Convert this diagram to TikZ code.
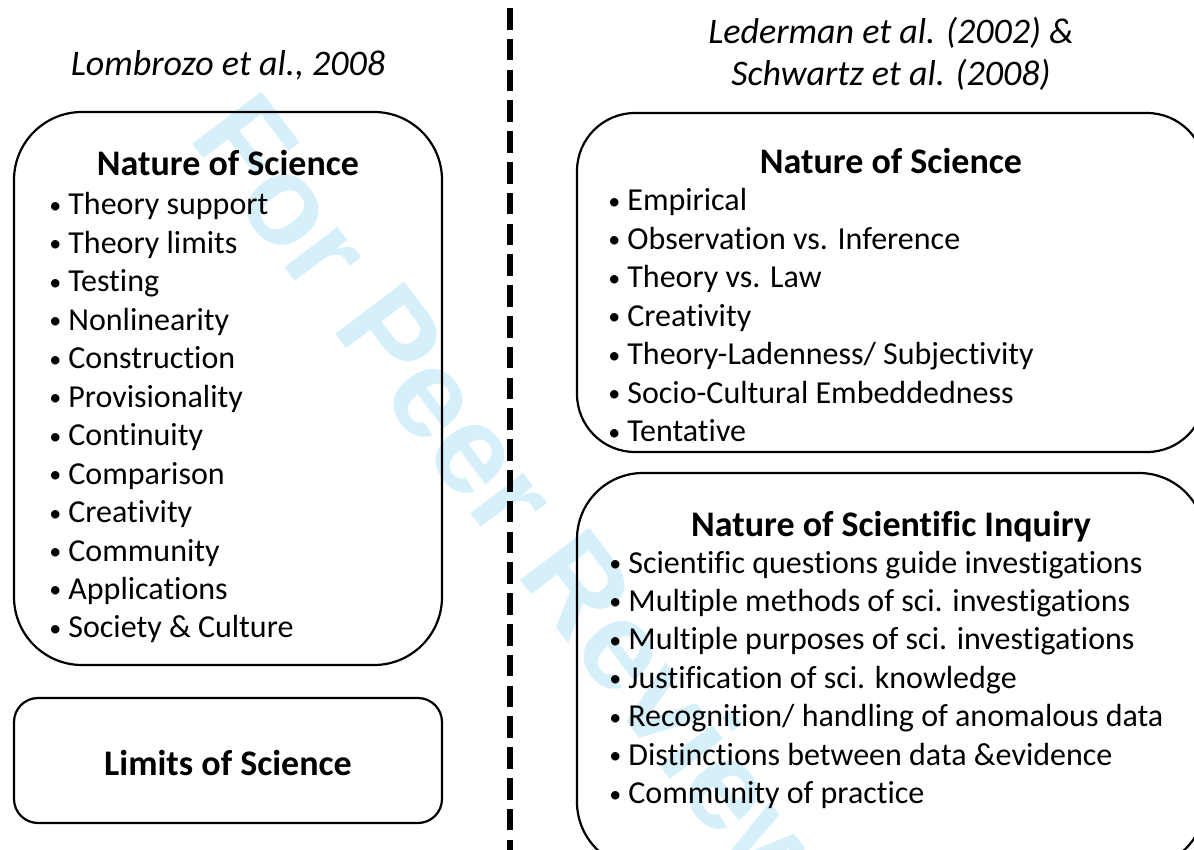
\documentclass[tikz,border=0pt]{standalone}
\usepackage{fontspec}
\setmainfont{Carlito}[Ligatures={NoCommon}]
\newfontfamily\stampfont{Liberation Sans}
\usetikzlibrary{positioning}
\definecolor{stampblue}{RGB}{214,240,251}
\tikzset{
  panel/.style={draw, line width=1.1pt, inner sep=0pt},
  heading/.style={anchor=base, inner sep=0pt, font=\fontsize{18}{22}\selectfont\bfseries},
  entry/.style={anchor=base west, inner sep=0pt, font=\fontsize{16}{19}\selectfont},
  source/.style={anchor=base, inner sep=0pt, font=\fontsize{18}{21}\selectfont\itshape},
  divider/.style={line width=2.6pt, dash pattern=on 10.8pt off 4.6pt},
}
\newcommand{\bul}{\makebox[9.5pt][l]{\raisebox{0.8pt}{\fontsize{12}{12}\selectfont\textbullet}}}

\begin{document}
\begin{tikzpicture}[x=0.5pt, y=-0.5pt]
\useasboundingbox (0,0) rectangle (1194,850);
% watermark
\node (stamp) [text=stampblue, font=\fontsize{63}{63}\stampfont\bfseries, rotate=-53] at (518,502) {For Peer Review};

% sources
\node (lomb) [source] at (228,76) {Lombrozo et al., 2008};
\node (led) [source] at (891,44) {Lederman et al. (2002) \&};
\node (schw) [source] at (891,86) {Schwartz et al. (2008)};

% boxes
\node (nosL) [panel, rounded corners=34pt, minimum width=214pt, minimum height=276.5pt] at (228,388.5) {};
\node (limits) [panel, rounded corners=12pt, minimum width=214pt, minimum height=62.5pt] at (228,760.5) {};
\node (nosR) [panel, rounded corners=29pt, minimum width=314pt, minimum height=169.5pt] at (891,282.5) {};
\node (nosi) [panel, rounded corners=33pt, minimum width=314pt, minimum height=197.5pt] at (891,670.5) {};

\node (nosL title) [heading] at (228,176) {Nature of Science};
\node (limits title) [heading] at (228,775) {Limits of Science};
\node (nosR title) [heading] at (891,174) {Nature of Science};
\node (nosi title) [heading] at (891,536) {Nature of Scientific Inquiry};

\foreach \txt [count=\i from 0] in {Theory support, Theory limits, Testing,
    Nonlinearity, Construction, Provisionality, Continuity, Comparison,
    Creativity, Community, Applications, Society \& Culture}
  \node (nosL \i) [entry] at (49,215+38.45*\i) {\bul\txt};

\foreach \txt [count=\i from 0] in {Empirical, Observation vs. Inference,
    Theory vs. Law, Creativity, Theory-Ladenness/ Subjectivity,
    Socio-Cultural Embeddedness, Tentative}
  \node (nosR \i) [entry] at (608,211+38.45*\i) {\bul\txt};

\foreach \txt [count=\i from 0] in {Scientific questions guide investigations,
    Multiple methods of sci. investigations,
    Multiple purposes of sci. investigations,
    Justification of sci. knowledge,
    Recognition/ handling of anomalous data,
    Distinctions between data \&evidence, Community of practice}
  \node (nosi \i) [entry] at (609,573+38.45*\i) {\bul\txt};

% divider
\coordinate (cut top) at (510,8);
\coordinate (cut bottom) at (510,850);
\draw[divider] (cut top) -- (cut bottom);
\end{tikzpicture}
\end{document}
